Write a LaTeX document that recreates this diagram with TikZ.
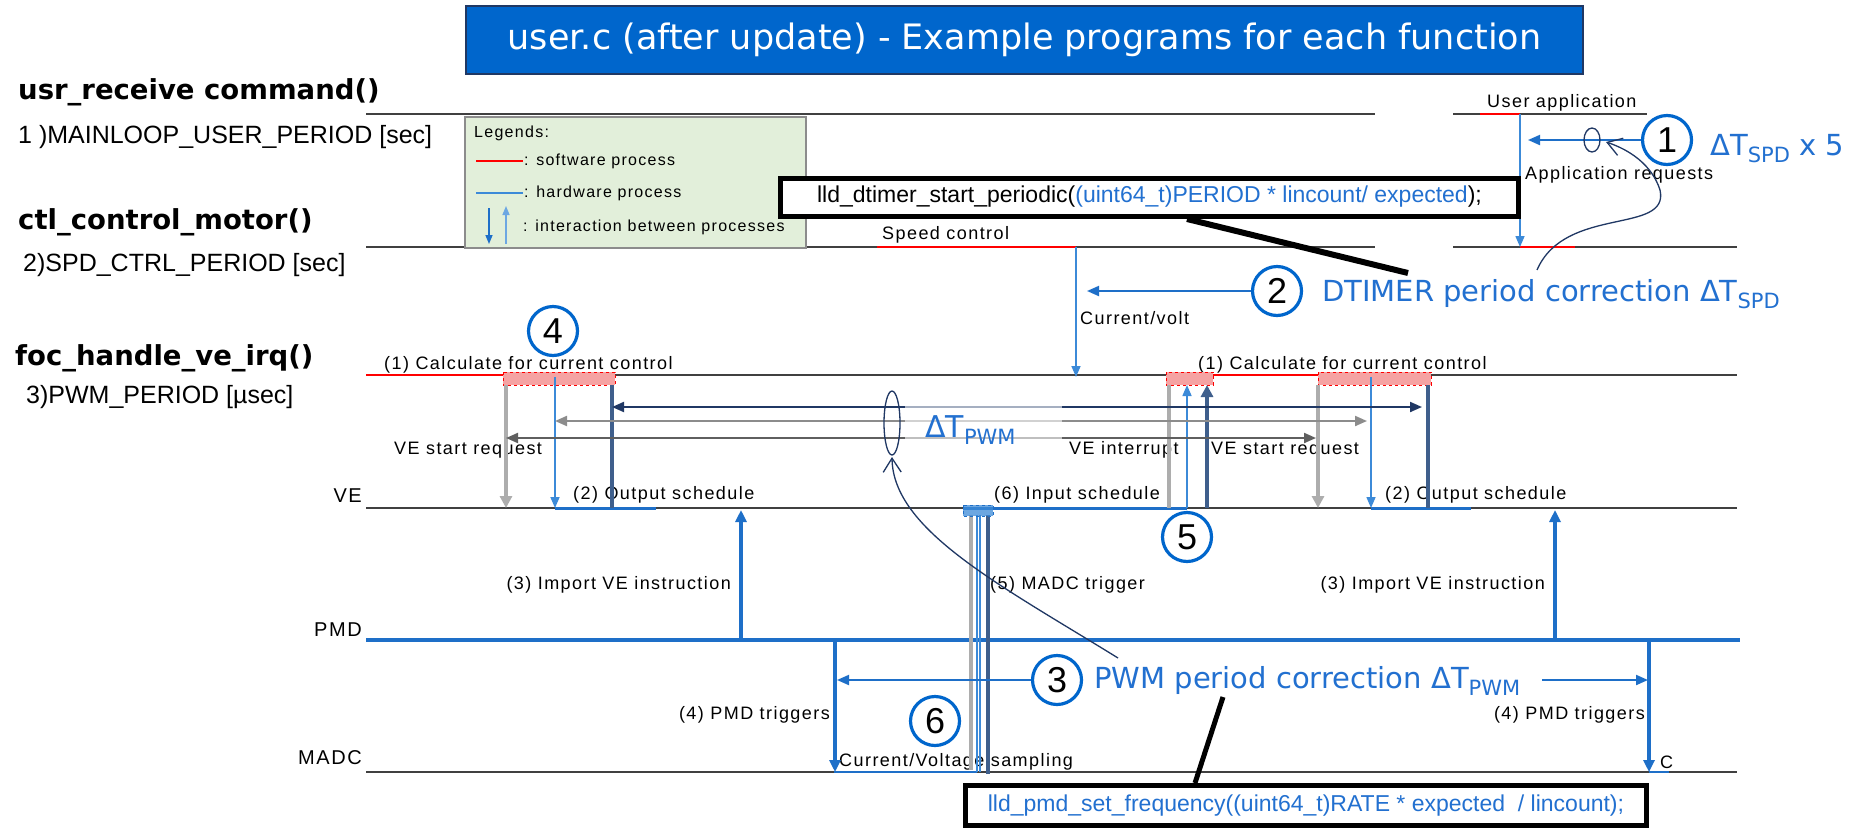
\documentclass[tikz,border=0pt]{standalone}
\usepackage{fontspec}
\setmainfont{Liberation Sans}
\newfontfamily\labfont[LetterSpace=8]{Liberation Sans}
\newfontfamily\djv{DejaVu Sans}
\usetikzlibrary{arrows.meta}
\definecolor{lane}{HTML}{404040}
\definecolor{hw}{HTML}{1E6FC8}
\definecolor{ring}{HTML}{0066CC}
\definecolor{anntxt}{HTML}{2270D0}
\definecolor{navy}{HTML}{203864}
\definecolor{slate}{HTML}{3F5F8C}
\definecolor{lgray}{HTML}{ADADAD}
\definecolor{mgray}{HTML}{8C8C8C}
\definecolor{dgray}{HTML}{5F5F5F}
\definecolor{lblue}{HTML}{3C8AD8}
\definecolor{legfill}{HTML}{E2EFDA}
\definecolor{pinkf}{HTML}{F5A3A3}
\definecolor{titlebg}{HTML}{0066CC}
\newcommand\sbs[1]{\raisebox{-7pt}{\fontsize{21}{21}\selectfont #1}}
\tikzset{
  laneline/.style={draw=lane, line width=1.8pt},
  swline/.style={draw=red, line width=2.5pt},
  hwline/.style={draw=hw, line width=3pt},
  pmdline/.style={draw=hw, line width=4pt},
  pinkbox/.style={fill=pinkf, draw=red, dashed, line width=1pt},
  lbl/.style={inner sep=0pt, font=\labfont\fontsize{18}{20}\selectfont},
  lanelbl/.style={inner sep=0pt, anchor=east, font=\labfont\fontsize{20}{22}\selectfont},
  fnhead/.style={inner sep=0pt, anchor=west, font=\djv\bfseries\fontsize{27.5}{30}\selectfont},
  perlbl/.style={inner sep=0pt, anchor=west, font=\fontsize{25}{28}\selectfont},
  leglbl/.style={inner sep=0pt, anchor=west, font=\labfont\fontsize{16}{18}\selectfont},
  numcirc/.style={circle, draw=ring, line width=3.2pt, fill=white, minimum size=49pt, inner sep=0pt, font=\fontsize{36}{36}\selectfont},
  anntext/.style={inner sep=0pt, anchor=base west, text=anntxt, font=\djv\fontsize{29}{32}\selectfont},
  codebox/.style={draw=black, line width=5pt, fill=white, inner sep=0pt, font=\fontsize{23}{26}\selectfont},
  bluearrow/.style={draw=lblue, line width=1.6pt, -{Triangle[length=11pt,width=9pt]}},
  annarrow/.style={draw=hw, line width=2pt, -{Triangle[length=12pt,width=10pt]}},
  hwarrow/.style={draw=hw, line width=3.5pt, -{Triangle[length=12pt,width=11pt]}},
  grayv/.style={draw=lgray, line width=4pt},
  slatev/.style={draw=slate, line width=4pt},
  thinv/.style={draw=lblue, line width=1.6pt},
  curvearrow/.style={draw=navy, line width=1.3pt, -{Straight Barb[length=14pt,width=18pt]}},
  pointer/.style={draw=black, line width=6pt},
  dbl/.style={line width=2pt, {Triangle[length=12pt,width=10pt]}-{Triangle[length=12pt,width=10pt]}},
}
\begin{document}
\begin{tikzpicture}[x=1pt,y=-1pt]
\useasboundingbox[fill=white] (0,0) rectangle (1863,828);

% title
\node[draw=navy, line width=1.2pt, fill=titlebg, text=white, minimum width=1117pt, minimum height=68pt, inner sep=0pt, font=\djv\fontsize{35}{40}\selectfont] (title) at (1024.5,40) {user.c (after update) - Example programs for each function};

% left headers
\node[fnhead] (h1) at (18,92) {usr\_receive command()};
\node[perlbl] (p1) at (18,137) {1 )MAINLOOP\_USER\_PERIOD [sec]};
\node[fnhead] (h2) at (18,222) {ctl\_control\_motor()};
\node[perlbl] (p2) at (23,265) {2)SPD\_CTRL\_PERIOD [sec]};
\node[fnhead] (h3) at (15,358) {foc\_handle\_ve\_irq()};
\node[perlbl] (p3) at (26,397) {3)PWM\_PERIOD [µsec]};
\node[lanelbl] (lve) at (362,496) {VE};
\node[lanelbl] (lpmd) at (362,630) {PMD};
\node[lanelbl] (lmadc) at (362,758) {MADC};

% lanes
\coordinate (L1a) at (366,114); \coordinate (L1b) at (1375,114);
\coordinate (L1c) at (1453,114); \coordinate (L1d) at (1647,114);
\coordinate (L2a) at (366,247); \coordinate (L2b) at (1375,247);
\coordinate (L2c) at (1453,247); \coordinate (L2d) at (1737,247);
\coordinate (L3a) at (366,375); \coordinate (L3b) at (1737,375);
\coordinate (VEa) at (366,508); \coordinate (VEb) at (1737,508);
\coordinate (PMa) at (366,640); \coordinate (PMb) at (1740,640);
\coordinate (MAa) at (366,772); \coordinate (MAb) at (1737,772);
\draw[laneline] (L1a)--(L1b) (L1c)--(L1d) (L2a)--(L2b) (L2c)--(L2d) (L3a)--(L3b) (VEa)--(VEb) (MAa)--(MAb);
\draw[pmdline] (PMa)--(PMb);

% software segments
\coordinate (ua1) at (1480,114); \coordinate (ua2) at (1520,114);
\coordinate (sc1) at (877,247); \coordinate (sc2) at (1076,247);
\coordinate (ar1) at (1520,247); \coordinate (ar2) at (1575,247);
\coordinate (cc1) at (366,375); \coordinate (cc2) at (503,375);
\coordinate (cc3) at (1213,375); \coordinate (cc4) at (1318,375);
\draw[swline] (ua1)--(ua2) (sc1)--(sc2) (ar1)--(ar2) (cc1)--(cc2) (cc3)--(cc4);

% hardware segments
\draw[hwline] (555,508)--(656,508) (963,508)--(1187,508) (1371,508)--(1471,508);
\draw[draw=hw, line width=2pt] (834,772)--(977,772) (1649,772)--(1669,772);

% labels
\node[lbl, anchor=west] (tua) at (1487,103) {User application};
\node[lbl, anchor=west] (tapp) at (1525,175) {Application requests};
\node[lbl, anchor=west] (tsc) at (882,235) {Speed control};
\node[lbl, anchor=west] (tcv) at (1080,318) {Current/volt};
\node[lbl, anchor=west] (tcalc1) at (384,365) {(1) Calculate for current control};
\node[lbl, anchor=west] (tcalc2) at (1198,365) {(1) Calculate for current control};
\node[lbl, anchor=west] (tvsr1) at (394,450) {VE start request};
\node[lbl, anchor=west] (tvi) at (1069,450) {VE interrupt};
\node[lbl, anchor=west] (tvsr2) at (1211,450) {VE start request};
\node[lbl, anchor=west] (tos1) at (573,495) {(2) Output schedule};
\node[lbl, anchor=west] (tis) at (994,495) {(6) Input schedule};
\node[lbl, anchor=west] (tos2) at (1385,495) {(2) Output schedule};
\node[lbl, anchor=east] (tim1) at (731,585) {(3) Import VE instruction};
\node[lbl, anchor=east] (tim2) at (1545,585) {(3) Import VE instruction};
\node[lbl, anchor=west] (tmt) at (990,585) {(5) MADC trigger};
\node[lbl, anchor=east] (tpt1) at (830,715) {(4) PMD triggers};
\node[lbl, anchor=east] (tpt2) at (1645,715) {(4) PMD triggers};
\node[lbl, anchor=west] (tcvs) at (839,762) {Current/Voltage sampling};
\node[lbl, anchor=west] (tcc) at (1660,762) {C};

% calculation boxes
\draw[pinkbox] (503,372) rectangle (615,385);
\draw[pinkbox] (1166,372) rectangle (1213,385);
\draw[pinkbox] (1318,372) rectangle (1431,385);

% verticals between foc and VE
\draw[grayv, -{Triangle[length=12pt,width=12pt]}] (506,385)--(506,508);
\draw[bluearrow] (555,377)--(555,508);
\draw[slatev] (612,385)--(612,508);
\draw[grayv] (1169,508)--(1169,385);
\draw[bluearrow] (1187,508)--(1187,385);
\draw[slatev, -{Triangle[length=12pt,width=12pt]}] (1207,508)--(1207,385);
\draw[grayv, -{Triangle[length=12pt,width=12pt]}] (1318,385)--(1318,508);
\draw[bluearrow] (1371,377)--(1371,508);
\draw[slatev] (1428,385)--(1428,508);

% period arrows
\draw[dbl, draw=navy, fill=navy] (612,407)--(1422,407);
\draw[dbl, draw=mgray, fill=mgray] (555,421)--(1367,421);
\draw[dbl, draw=dgray, fill=dgray] (506,438)--(1316,438);
\fill[white, opacity=0.6] (905,396) rectangle (1062,446);
\node[anntext, font=\djv\fontsize{30}{32}\selectfont] (dtpwm) at (925,437) {ΔT\sbs{PWM}};

% speed / user arrows
\draw[bluearrow] (sc2)--(1076,377);
\draw[bluearrow] (ua2)--(ar1);

% sampling
\draw[grayv] (971,515)--(971,770);
\draw[thinv] (977,515)--(977,772);
\draw[thinv] (980,515)--(980,772);
\draw[slatev] (988,515)--(988,774);
\draw[fill=lblue, fill opacity=0.75, draw=hw, dashed, line width=1pt] (963,505) rectangle (993,516);

% PMD arrows
\draw[hwarrow] (741,640)--(741,510);
\draw[hwarrow] (1555,640)--(1555,510);
\draw[hwarrow] (835,640)--(835,772);
\draw[hwarrow] (1649,640)--(1649,772);

% legend
\node[draw=mgray, line width=1.5pt, fill=legfill, minimum width=341pt, minimum height=131pt, inner sep=0pt, anchor=north west] (legend) at (464,116) {};
\node[leglbl] (lg0) at (474,133) {Legends:};
\draw[red, line width=1.5pt] (476,161)--(523,161);
\node[leglbl] (lg1) at (524,161) {: software process};
\draw[lblue, line width=1.5pt] (476,193)--(523,193);
\node[leglbl] (lg2) at (524,193) {: hardware process};
\draw[hw, line width=1.5pt, -{Triangle[length=9pt,width=7pt]}] (489,208)--(489,244);
\draw[lblue!75, line width=1.5pt, -{Triangle[length=9pt,width=7pt]}] (506,244)--(506,206);
\node[leglbl] (lg3) at (523,227) {: interaction between processes};

% code box top
\coordinate (pt1a) at (1187,219); \coordinate (pt1b) at (1408,273);
\draw[pointer] (pt1a)--(pt1b);
\node[codebox, minimum width=738pt, minimum height=38pt] (code1) at (1149.5,197) {lld\_dtimer\_start\_periodic(\textcolor{anntxt}{(uint64\_t)PERIOD * lincount/ expected});};

% circles
\node[numcirc] (c1) at (1667,140) {1};
\node[numcirc] (c2) at (1277,291) {2};
\node[numcirc] (c3) at (1057,680) {3};
\node[numcirc] (c4) at (553,331) {4};
\node[numcirc] (c5) at (1187,537) {5};
\node[numcirc] (c6) at (935,721) {6};

\coordinate (a1e) at (1528,140);
\coordinate (a2e) at (1087,291);
\coordinate (a3e) at (837,680);
\coordinate (pwmend) at (1542,680);
\coordinate (a4e) at (1648,680);
\draw[annarrow] (c1.west)--(a1e);
\draw[annarrow] (c2.west)--(a2e);
\draw[annarrow] (c3.west)--(a3e);
\draw[annarrow] (pwmend)--(a4e);

% ellipses
\draw[navy, line width=1.3pt] (1592,140) ellipse [x radius=8, y radius=12];
\draw[navy, line width=1.3pt] (892,423) ellipse [x radius=8, y radius=32];

% annotations
\node[anntext] (ann1) at (1710,155) {ΔT\sbs{SPD} x 5};
\node[anntext] (ann2) at (1322,301) {DTIMER period correction ΔT\sbs{SPD}};
\node[anntext] (ann3) at (1094,688) {PWM period correction ΔT\sbs{PWM}};

% curves
\coordinate (cv1s) at (1537,270); \coordinate (cv1e) at (1606,142);
\draw[curvearrow] (cv1s) .. controls (1565,205) and (1670,235) .. (1660,190) .. controls (1652,165) and (1630,150) .. (cv1e);
\coordinate (cv2s) at (1118,658); \coordinate (cv2e) at (892,457);
\draw[curvearrow] (cv2s) .. controls (1000,585) and (893,530) .. (cv2e);

% code box bottom
\coordinate (pt2a) at (1223,697); \coordinate (pt2b) at (1195,783);
\draw[pointer, line width=5pt] (pt2a)--(pt2b);
\node[codebox, minimum width=681pt, minimum height=40pt, text=anntxt] (code2) at (1306,805.5) {lld\_pmd\_set\_frequency((uint64\_t)RATE * expected \ / lincount);};
\end{tikzpicture}
\end{document}
